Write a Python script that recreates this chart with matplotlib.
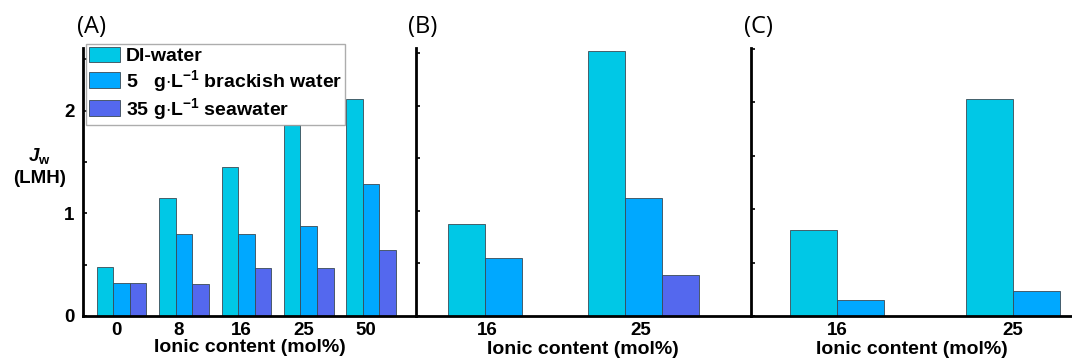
import numpy as np
import matplotlib
matplotlib.use('Agg')
import matplotlib.pyplot as plt
from matplotlib.ticker import MultipleLocator, NullFormatter

# panel A: all feeds, 5 ionic contents
a_labels = ['0', '8', '16', '25', '50']
a_di = [0.48, 1.15, 1.45, 1.86, 2.11]
a_brackish = [0.32, 0.80, 0.80, 0.88, 1.29]
a_sea = [0.32, 0.31, 0.47, 0.47, 0.64]

# panel B
b_labels = ['16', '25']
b_di = [0.88, 2.52]
b_brackish = [0.55, 1.12]
b_sea = [0.0, 0.39]

# panel C
c_labels = ['16', '25']
c_di = [0.81, 2.03]
c_brackish = [0.15, 0.23]

series_names = ['DI-water', '5   g$\\cdot$L$^{-1}$ brackish water', '35 g$\\cdot$L$^{-1}$ seawater']
colors = ['#00C8E6', '#00A8FF', '#5468EE']

plt.rcParams['font.family'] = ['Liberation Sans', 'DejaVu Sans']
plt.rcParams['font.weight'] = 'bold'
plt.rcParams['mathtext.fontset'] = 'custom'
plt.rcParams['mathtext.rm'] = 'Liberation Sans:bold'
plt.rcParams['mathtext.it'] = 'Liberation Sans:bold:italic'

fig = plt.figure(figsize=(10.72, 3.64), dpi=100)
bottom, height = 48 / 364, 268 / 364
ax_a = fig.add_axes([83 / 1072, bottom, 333 / 1072, height])
ax_b = fig.add_axes([416 / 1072, bottom, 334 / 1072, height])
ax_c = fig.add_axes([751 / 1072, bottom, 321 / 1072, height])

bw = 0.265
edge = dict(edgecolor='#3a4a55', linewidth=0.6)


def style(ax, ylim, show_labels, lpad):
    for s in ['top', 'right']:
        ax.spines[s].set_visible(False)
    for s in ['left', 'bottom']:
        ax.spines[s].set_linewidth(2)
    ax.set_ylim(0, ylim)
    ax.yaxis.set_major_locator(MultipleLocator(1))
    ax.yaxis.set_minor_locator(MultipleLocator(0.5))
    ax.tick_params(axis='y', which='both', direction='in', length=3, width=1.2,
                   labelsize=13.5, pad=6)
    ax.tick_params(axis='x', length=0, labelsize=13.5, pad=4)
    if not show_labels:
        ax.yaxis.set_major_formatter(NullFormatter())
    ax.set_xlabel('Ionic content (mol%)', fontsize=14, fontweight='bold', labelpad=lpad)


# A
xa = np.arange(len(a_labels))
for i, vals in enumerate([a_di, a_brackish, a_sea]):
    ax_a.bar(xa + (i - 1) * bw, vals, bw, color=colors[i], label=series_names[i], **edge)
ax_a.set_xlim(-0.62, 4.72)
ax_a.set_xticks(xa - 0.08)
ax_a.set_xticklabels(a_labels)
style(ax_a, 2.61, True, 0)
ax_a.set_ylabel('$J_\\mathrm{w}$\n(LMH)', rotation=0, fontsize=13.5, fontweight='bold',
                linespacing=1.3)
ax_a.yaxis.set_label_coords(-0.13, 0.48)
leg = ax_a.legend(loc='upper left', bbox_to_anchor=(0.008, 1.015), fontsize=14,
                  frameon=True, fancybox=False, handlelength=1.6, handleheight=0.85,
                  handletextpad=0.3, labelspacing=0.12, borderpad=0.15,
                  borderaxespad=0.0)
leg.get_frame().set_edgecolor('#999999')
leg.get_frame().set_linewidth(1)
for t in leg.get_texts():
    t.set_fontweight('bold')

# B
xb = np.arange(len(b_labels))
for i, vals in enumerate([b_di, b_brackish, b_sea]):
    ax_b.bar(xb + (i - 1) * bw, vals, bw, color=colors[i], **edge)
ax_b.set_xlim(-0.626, 1.759)
ax_b.set_xticks(xb - np.array([0.12, 0.02]))
ax_b.set_xticklabels(b_labels)
style(ax_b, 2.55, False, 2)

# C
xc = np.arange(len(c_labels))
for i, vals in enumerate([c_di, c_brackish]):
    ax_c.bar(xc + (i - 0.5) * bw, vals, bw, color=colors[i], **edge)
ax_c.set_xlim(-0.488, 1.335)
ax_c.set_xticks(xc)
ax_c.set_xticklabels(c_labels)
style(ax_c, 2.51, False, 2)

for ax, lab, x in [(ax_a, '(A)', 77), (ax_b, '(B)', 408), (ax_c, '(C)', 744)]:
    fig.text(x / 1072, 1 - 27 / 364, lab, fontsize=17, fontweight='normal',
             family=['Open Sans', 'DejaVu Sans'], va='center', ha='left')

fig.savefig('out.png', dpi=100)
